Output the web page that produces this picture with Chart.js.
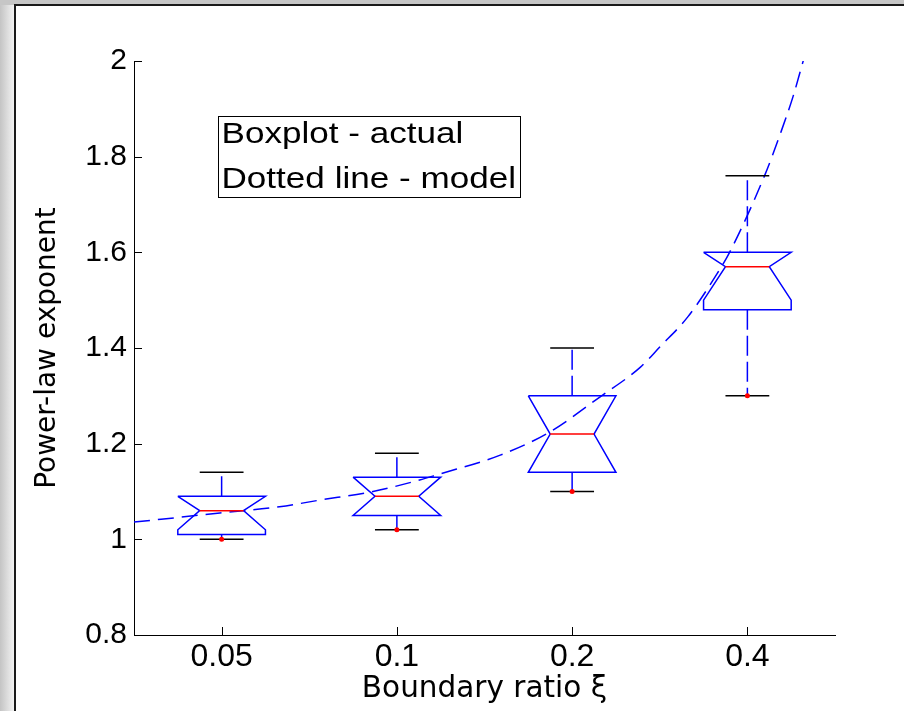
<!DOCTYPE html>
<html>
<head>
<meta charset="utf-8">
<script src="https://cdn.jsdelivr.net/npm/chart.js@4.4.1/dist/chart.umd.min.js"></script>
<style>
  html, body { margin: 0; padding: 0; }
  body { width: 904px; height: 711px; background: #c6c6c6; position: relative; overflow: hidden; }
  #side { position: absolute; left: 0; top: 5px; width: 14px; height: 706px; background: linear-gradient(to right, #c4c4c4, #f2f2f2); }
  #panel { position: absolute; left: 14px; top: 4px; width: 890px; height: 707px; background: #fff;
           border-left: 2px solid #1a1a1a; border-top: 2px solid #1a1a1a; box-sizing: border-box; }
  #wrap { position: absolute; left: 0; top: 0; width: 904px; height: 711px; }
</style>
</head>
<body>
<div id="side"></div>
<div id="panel"></div>
<div id="wrap"><canvas id="chart" width="904" height="711"></canvas></div>
<script>
// categories (boundary ratio) and y ticks
const categories = ['0.05', '0.1', '0.2', '0.4'];
const yTicks = [0.8, 1, 1.2, 1.4, 1.6, 1.8, 2];

// boxplot stats
const whiskerHigh = [1.14, 1.18, 1.40, 1.76];
const q3 = [1.09, 1.13, 1.30, 1.60];
const median = [1.06, 1.09, 1.22, 1.57];
const notchHigh = [1.09, 1.13, 1.30, 1.60];
const notchLow = [1.02, 1.05, 1.14, 1.50];
const q1 = [1.01, 1.05, 1.14, 1.48];
const whiskerLow = [1.00, 1.02, 1.10, 1.30];
const outliers = [1.00, 1.02, 1.10, 1.30];

// model curve (dashed), x in category units
const modelX = [0.5, 0.99, 1.33, 1.56, 1.85, 2.13, 2.23, 2.59, 2.87, 3.16, 3.39, 3.50, 3.66, 3.83, 3.90, 4.10, 4.19, 4.26, 4.32];
const modelY = [1.036, 1.055, 1.068, 1.082, 1.099, 1.124, 1.135, 1.176, 1.224, 1.298, 1.360, 1.402, 1.465, 1.557, 1.601, 1.762, 1.850, 1.925, 2.002];

// box geometry in x units
const BOX_HALF = 0.25, NOTCH_HALF = 0.125, CAP_HALF = 0.125;
const BLUE = '#0000ff', RED = '#ff0000';

const gap = () => ({ x: null, y: null });
const boxPts = [], medPts = [], whiskPts = [], capPts = [], outPts = [];
categories.forEach((c, i) => {
  const p = i + 1;
  boxPts.push(
    { x: p - BOX_HALF, y: q3[i] }, { x: p - BOX_HALF, y: notchHigh[i] }, { x: p - NOTCH_HALF, y: median[i] },
    { x: p - BOX_HALF, y: notchLow[i] }, { x: p - BOX_HALF, y: q1[i] }, { x: p + BOX_HALF, y: q1[i] },
    { x: p + BOX_HALF, y: notchLow[i] }, { x: p + NOTCH_HALF, y: median[i] }, { x: p + BOX_HALF, y: notchHigh[i] },
    { x: p + BOX_HALF, y: q3[i] }, { x: p - BOX_HALF, y: q3[i] }, gap());
  medPts.push({ x: p - NOTCH_HALF, y: median[i] }, { x: p + NOTCH_HALF, y: median[i] }, gap());
  whiskPts.push({ x: p, y: q3[i] }, { x: p, y: whiskerHigh[i] }, gap(), { x: p, y: q1[i] }, { x: p, y: whiskerLow[i] }, gap());
  capPts.push({ x: p - CAP_HALF, y: whiskerHigh[i] }, { x: p + CAP_HALF, y: whiskerHigh[i] }, gap(),
              { x: p - CAP_HALF, y: whiskerLow[i] }, { x: p + CAP_HALF, y: whiskerLow[i] }, gap());
  outPts.push({ x: p, y: outliers[i] });
});
const modelPts = modelX.map((x, i) => ({ x, y: modelY[i] }));

// inward tick marks + text box
const extras = {
  id: 'extras',
  afterDatasetsDraw(chart) {
    const { ctx, scales: { x, y }, chartArea: a } = chart;
    ctx.save();
    ctx.strokeStyle = '#000';
    ctx.lineWidth = 1;
    ctx.beginPath();
    y.ticks.forEach(t => {
      const py = Math.round(y.getPixelForValue(t.value)) + 0.5;
      ctx.moveTo(a.left, py); ctx.lineTo(a.left + 8, py);
    });
    x.ticks.forEach(t => {
      const px = Math.round(x.getPixelForValue(t.value)) + 0.5;
      ctx.moveTo(px, a.bottom); ctx.lineTo(px, a.bottom - 8);
    });
    ctx.stroke();

    // annotation box
    const bx = a.left + 84.5, by = a.top + 55.5;
    ctx.fillStyle = '#fff';
    ctx.fillRect(bx, by, 302, 81);
    ctx.strokeRect(bx, by, 302, 81);
    ctx.fillStyle = '#000';
    ctx.font = '29px "Liberation Sans"';
    ctx.textBaseline = 'alphabetic';
    ctx.textAlign = 'left';
    ctx.translate(bx + 3, by);
    ctx.scale(1.21, 1);   // the original lettering is wide
    ctx.fillText('Boxplot - actual', 0, 26);
    ctx.fillText('Dotted line - model', 0, 71);
    ctx.restore();
  }
};

const lineDs = (data, color, extra) => Object.assign({
  data, showLine: true, borderColor: color, backgroundColor: color, borderWidth: 1.5,
  pointRadius: 0, pointHoverRadius: 0, spanGaps: false, tension: 0
}, extra || {});

new Chart(document.getElementById('chart'), {
  type: 'scatter',
  data: {
    datasets: [
      lineDs(outPts, RED, { showLine: false, pointRadius: 2.5, borderWidth: 0 }),
      lineDs(medPts, RED),
      lineDs(capPts, '#000'),
      lineDs(boxPts, BLUE),
      lineDs(whiskPts, BLUE, { borderDash: [20, 6] }),
      lineDs(modelPts, BLUE, { borderDash: [16, 8], cubicInterpolationMode: 'monotone' })
    ]
  },
  options: {
    responsive: false,
    animation: false,
    devicePixelRatio: 1,
    layout: { padding: { top: 61, right: 69, bottom: 0, left: 0 } },
    plugins: { legend: { display: false }, tooltip: { enabled: false } },
    scales: {
      x: {
        type: 'linear', min: 0.5, max: 4.5,
        afterBuildTicks: s => { s.ticks = categories.map((c, i) => ({ value: i + 1 })); },
        afterFit: s => { s.height = 76; },
        grid: { display: false, drawTicks: false },
        border: { display: true, color: '#000', width: 1 },
        ticks: { callback: (v, i) => categories[i], color: '#000', padding: 3, maxRotation: 0, autoSkip: false,
                 font: { family: 'Liberation Sans', size: 32 } },
        title: { display: true, text: 'Boundary ratio ξ', color: '#000', padding: { top: 0, bottom: 4 },
                 font: { family: 'DejaVu Sans', size: 29.5 } }
      },
      y: {
        min: 0.8, max: 2,
        afterBuildTicks: s => { s.ticks = yTicks.map(v => ({ value: v })); },
        afterFit: s => { s.width = 134; },
        grid: { display: false, drawTicks: false },
        border: { display: true, color: '#000', width: 1 },
        ticks: { callback: (v, i) => String(yTicks[i]), color: '#000', padding: 7,
                 font: { family: 'Liberation Sans', size: 30 } },
        title: { display: true, text: 'Power-law exponent', color: '#000', padding: { top: 31, bottom: 0 },
                 font: { family: 'DejaVu Sans', size: 28 } }
      }
    }
  },
  plugins: [extras]
});
</script>
</body>
</html>
